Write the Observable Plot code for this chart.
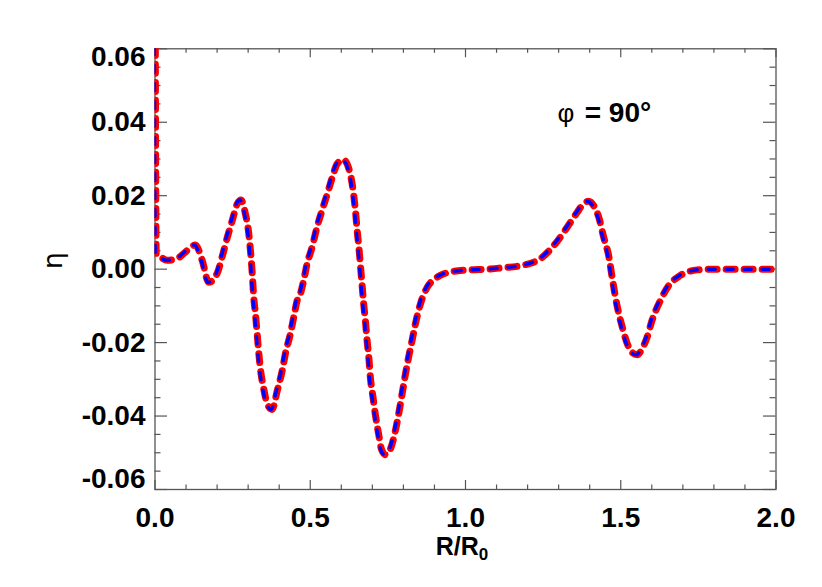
<!DOCTYPE html>
<html><head><meta charset="utf-8">
<script src="https://cdn.jsdelivr.net/npm/d3@7"></script>
<script src="https://cdn.jsdelivr.net/npm/@observablehq/plot@0.6"></script>
<style>body{margin:0;background:#fff} svg{display:block}</style>
</head><body><div id="chart"></div>
<script>
// ---- data ----
const rValues = [0.000,0.004,0.018,0.039,0.071,0.104,0.130,0.152,0.173,0.200,0.216,0.233,0.249,0.265,0.277,0.291,0.302,0.308,0.313,0.318,0.324,0.329,0.334,0.340,0.350,0.361,0.377,0.394,0.410,0.420,0.436,0.447,0.458,0.469,0.479,0.490,0.506,0.522,0.538,0.555,0.571,0.587,0.607,0.630,0.640,0.646,0.651,0.657,0.662,0.667,0.672,0.678,0.683,0.689,0.694,0.702,0.710,0.720,0.730,0.742,0.758,0.772,0.785,0.796,0.807,0.817,0.828,0.839,0.855,0.877,0.900,0.919,0.962,1.016,1.070,1.122,1.187,1.242,1.290,1.328,1.360,1.380,1.396,1.415,1.429,1.445,1.462,1.472,1.489,1.505,1.521,1.538,1.553,1.570,1.585,1.601,1.628,1.655,1.692,1.746,1.800,2.000];
const etaRed = [0.095,0.0040,0.0033,0.0024,0.0029,0.0051,0.0066,0.0024,-0.0036,-0.0012,0.0033,0.0087,0.0133,0.0178,0.0188,0.0151,0.0097,0.0045,-0.0010,-0.0076,-0.0126,-0.0176,-0.0226,-0.0275,-0.0325,-0.0366,-0.0382,-0.0330,-0.0275,-0.0230,-0.0176,-0.0130,-0.0085,-0.0065,-0.0030,0.0015,0.0060,0.0115,0.0160,0.0205,0.0250,0.0287,0.0298,0.0255,0.0201,0.0155,0.0106,0.0056,0.0006,-0.0044,-0.0094,-0.0144,-0.0194,-0.0244,-0.0298,-0.0348,-0.0398,-0.0448,-0.0492,-0.0505,-0.0490,-0.0448,-0.0393,-0.0339,-0.0284,-0.0239,-0.0194,-0.0148,-0.0094,-0.0049,-0.0027,-0.0017,-0.0006,-0.0002,0.0000,0.0004,0.0011,0.0029,0.0070,0.0115,0.0155,0.0178,0.0185,0.0170,0.0142,0.0087,0.0033,-0.0021,-0.0103,-0.0158,-0.0203,-0.0228,-0.0233,-0.0215,-0.0185,-0.0139,-0.0085,-0.0044,-0.0017,-0.0002,0.0000,0.0000];
const etaBlue = etaRed.slice(); // the two curves coincide in the reference

const xMajor = [0, 0.5, 1.0, 1.5, 2.0];
const xTickLabels = ["0.0", "0.5", "1.0", "1.5", "2.0"];
const xMinor = [0.1,0.2,0.3,0.4,0.6,0.7,0.8,0.9,1.1,1.2,1.3,1.4,1.6,1.7,1.8,1.9];
const yMajor = [-0.06, -0.04, -0.02, 0.00, 0.02, 0.04, 0.06];
const yTickLabels = ["-0.06", "-0.04", "-0.02", "0.00", "0.02", "0.04", "0.06"];
const yMinor = [-0.055,-0.05,-0.045,-0.035,-0.03,-0.025,-0.015,-0.01,-0.005,0.005,0.01,0.015,0.025,0.03,0.035,0.045,0.05,0.055];
const annotation = {symbol: "φ", rest: "= 90°"};

const redData = rValues.map((r, i) => ({r, eta: etaRed[i]}));
const blueData = rValues.map((r, i) => ({r, eta: etaBlue[i]}));

const W = 822, H = 587;
const mL = 154.5, mR = 46.5, mT = 48.3, mB = 98;
const innerW = W - mL - mR, innerH = H - mT - mB;
const FONT = "Liberation Sans, Arial, Helvetica, sans-serif";
const AX = "#555";
const FS = 28;

const yInner = yMajor.map((v, i) => ({v, t: yTickLabels[i]})).filter(d => d.v !== yMajor[0] && d.v !== yMajor[yMajor.length - 1]);

const plot = Plot.plot({
  width: W, height: H,
  marginLeft: mL, marginRight: mR, marginTop: mT, marginBottom: mB,
  x: {domain: [0, 2], axis: null},
  y: {domain: [-0.06, 0.06], axis: null},
  style: {fontFamily: FONT, background: "#fff"},
  marks: [
    // ticks (inward, all four sides)
    Plot.tickX(xMajor, {x: d => d, insetTop: innerH - 9, stroke: AX, strokeWidth: 1.2}),
    Plot.tickX(xMajor, {x: d => d, insetBottom: innerH - 9, stroke: AX, strokeWidth: 1.2}),
    Plot.tickX(xMinor, {x: d => d, insetTop: innerH - 4.5, stroke: AX, strokeWidth: 1.2}),
    Plot.tickX(xMinor, {x: d => d, insetBottom: innerH - 4.5, stroke: AX, strokeWidth: 1.2}),
    Plot.tickY(yMajor, {y: d => d, insetRight: innerW - 12.5, stroke: AX, strokeWidth: 1.2}),
    Plot.tickY(yMajor, {y: d => d, insetLeft: innerW - 12.5, stroke: AX, strokeWidth: 1.2}),
    Plot.tickY(yMinor, {y: d => d, insetRight: innerW - 6, stroke: AX, strokeWidth: 1.2}),
    Plot.tickY(yMinor, {y: d => d, insetLeft: innerW - 6, stroke: AX, strokeWidth: 1.2}),
    Plot.frame({stroke: AX, strokeWidth: 1.3}),
    // curves
    Plot.line(redData, {x: "r", y: "eta", stroke: "#ff0000", strokeWidth: 7, strokeDasharray: "9,9", curve: "monotone-x", clip: true}),
    Plot.line(blueData, {x: "r", y: "eta", stroke: "#0000ff", strokeWidth: 3.5, strokeDasharray: "7,11", strokeDashoffset: -1, dx: -1, curve: "monotone-x", clip: true}),
    // x tick labels
    Plot.text(xMajor, {x: d => d, text: (d, i) => xTickLabels[i], frameAnchor: "bottom", lineAnchor: "bottom", dy: 37, fontSize: FS, fontWeight: "bold", fill: "#000"}),
    // y tick labels
    Plot.text(yInner, {y: "v", text: "t", frameAnchor: "left", textAnchor: "end", lineAnchor: "middle", dx: -9.5, fontSize: FS, fontWeight: "bold", fill: "#000"}),
    Plot.text([yTickLabels[yTickLabels.length - 1]], {y: yMajor[yMajor.length - 1], text: d => d, frameAnchor: "left", textAnchor: "end", lineAnchor: "middle", dx: -9.5, dy: 8.4, fontSize: FS, fontWeight: "bold", fill: "#000"}),
    Plot.text([yTickLabels[0]], {y: yMajor[0], text: d => d, frameAnchor: "left", textAnchor: "end", lineAnchor: "middle", dx: -9.5, dy: -10, fontSize: FS, fontWeight: "bold", fill: "#000"}),
    // y title
    Plot.text(["η"], {text: d => d, frameAnchor: "left", dx: -102, rotate: -90, lineAnchor: "middle", fontSize: 27, fontFamily: "DejaVu Sans, sans-serif", fill: "#000"}),
    // annotation
    Plot.text([annotation.symbol], {x: 1.296, y: 0.0424, text: d => d, textAnchor: "start", lineAnchor: "middle", fontSize: 26, fill: "#000"}),
    Plot.text([annotation.rest], {x: 1.384, y: 0.0424, text: d => d, textAnchor: "start", lineAnchor: "middle", fontSize: FS, fontWeight: "bold", fill: "#000"})
  ]
});

// x-axis title with subscript
const xs = plot.scale("x");
const svg = d3.select(plot);
const title = svg.append("text")
  .attr("x", xs.apply(1.0) - 3)
  .attr("y", 555)
  .attr("text-anchor", "middle")
  .attr("font-family", FONT)
  .attr("font-weight", "bold")
  .attr("font-size", 25)
  .attr("fill", "#000");
title.append("tspan").text("R/R");
title.append("tspan").attr("dy", 5).attr("font-size", 17).text("0");

document.getElementById("chart").append(plot);
</script>
</body></html>
